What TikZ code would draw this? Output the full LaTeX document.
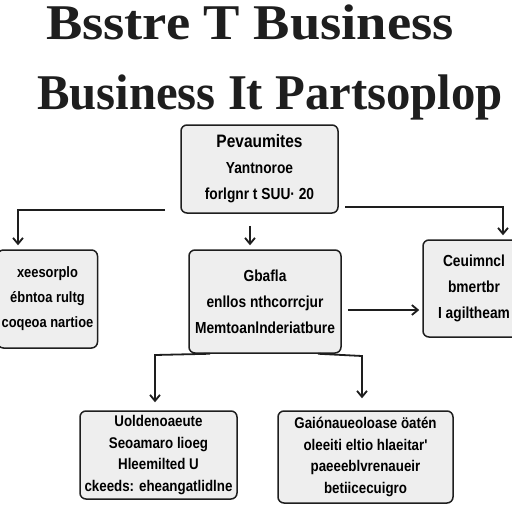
\documentclass[tikz,border=0pt]{standalone}
\usepackage{fontspec}
\usetikzlibrary{arrows.meta}
\newfontfamily\titlef{Liberation Serif}
\newfontfamily\bodyf{Liberation Sans}[FakeStretch=0.86]
\definecolor{boxfill}{HTML}{EEEEEE}
\definecolor{ink}{HTML}{1E1E1E}
\tikzset{
  box/.style={draw=ink, line width=1.5pt, rounded corners=6pt, fill=boxfill, align=center, inner sep=0pt,
    font={\bodyf\bfseries\fontsize{16}{26}\selectfont}},
  smallbox/.style={box, font={\bodyf\bfseries\fontsize{15.5}{21.5}\selectfont}},
  conn/.style={draw=ink, line width=1.8pt, -{Straight Barb[length=6pt,width=10pt]}},
  titletext/.style={font={\titlef\bfseries\fontsize{50}{50}\selectfont}, inner sep=0pt, text=ink}
}
\begin{document}
\begin{tikzpicture}[x=1pt,y=-1pt]
\useasboundingbox[fill=white] (0,0) rectangle (512,512);
% titles
\node[titletext] (t1) at (250,22) {\scalebox{1.09}[1]{Bsstre T Business}};
\node[titletext] (t2) at (270,97) {\scalebox{0.975}[1]{Business It Partsoplop}};
% boxes
\node[box, minimum width=157pt, minimum height=88pt] (top) at (259.5,169)
  {{\fontsize{18}{26}\selectfont Pevaumites}\\Yantnoroe\\forlgnr t SUU· 20};
\node[box, minimum width=100pt, minimum height=98pt, font={\bodyf\bfseries\fontsize{15}{25}\selectfont}] (left) at (47.5,299)
  {xeesorplo\\ébntoa rultg\\coqeoa nartioe};
\node[box, minimum width=152pt, minimum height=103pt] (center) at (265,301.5)
  {Gbafla\\enllos nthcorrcjur\\Memtoanlnderiatbure};
\node[box, minimum width=102pt, minimum height=97pt] (right) at (474,288.5)
  {Ceuimncl\\bmertbr\\I agiltheam};
\node[smallbox, minimum width=157pt, minimum height=88pt] (bl) at (158.5,455)
  {Uoldenoaeute\\Seoamaro lioeg\\Hleemilted U\\ckeeds: eheangatlidlne};
\node[smallbox, minimum width=175pt, minimum height=92pt] (br) at (365.5,457)
  {Gaiónaueoloase öatén\\oleeiti eltio hlaeitar'\\paeeeblvrenaueir\\betiicecuigro};
% helper coordinates
\coordinate (l1) at (165,210);
\coordinate (lk) at (18,210);
\coordinate (r1) at (345,207);
\coordinate (rk) at (503,207);
\coordinate (y310) at (0,310);
\coordinate (x250) at (250,0);
\coordinate (x210) at (210,0);
\coordinate (x318) at (318,0);
\coordinate (kbl) at (155,355);
\coordinate (kbr) at (362,356);
% connectors
\draw[conn, shorten >=4pt] (l1) -- (lk) -- (lk |- left.north);
\draw[conn, shorten >=4pt] (r1) -- (rk) -- (rk |- right.north);
\draw[conn, shorten <=12pt, shorten >=4pt] (x250 |- top.south) -- (x250 |- center.north);
\draw[conn, shorten <=6pt, shorten >=3pt] (center.east |- y310) -- (right.west |- y310);
\draw[conn, shorten >=8pt] (x210 |- center.south) -- (kbl) -- (kbl |- bl.north);
\draw[conn, shorten >=12pt] (x318 |- center.south) -- (kbr) -- (kbr |- br.north);
\end{tikzpicture}
\end{document}
